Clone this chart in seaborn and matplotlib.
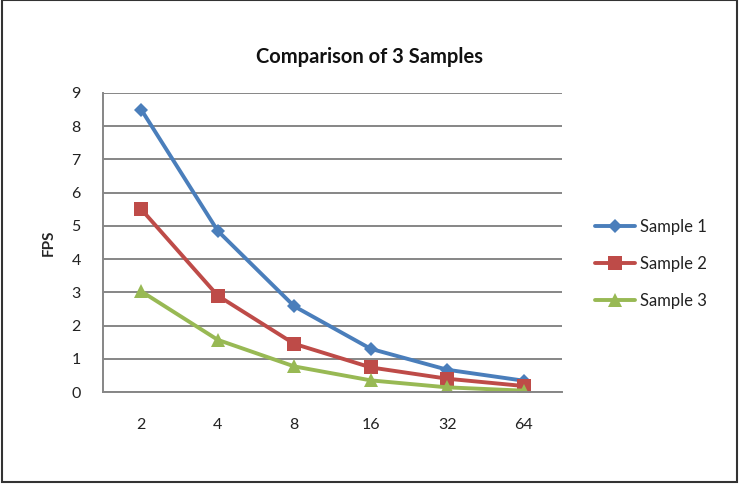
import matplotlib
matplotlib.use("Agg")
import matplotlib.pyplot as plt
import seaborn as sns
import pandas as pd
from matplotlib.patches import Rectangle

# Data
categories = ["2", "4", "8", "16", "32", "64"]
sample1 = [8.5, 4.85, 2.58, 1.3, 0.67, 0.34]
sample2 = [5.5, 2.9, 1.45, 0.74, 0.4, 0.18]
sample3 = [3.03, 1.57, 0.77, 0.35, 0.14, 0.04]
series_names = ["Sample 1", "Sample 2", "Sample 3"]
y_ticks = [0, 1, 2, 3, 4, 5, 6, 7, 8, 9]

rows = []
for name, vals in zip(series_names, [sample1, sample2, sample3]):
    for c, v in zip(categories, vals):
        rows.append({"x": c, "FPS": v, "series": name})
df = pd.DataFrame(rows)

sns.set_theme(style="white")
font = ["Lato", "DejaVu Sans"]
plt.rcParams["font.family"] = font

fig = plt.figure(figsize=(7.4, 4.86), dpi=100)
ax = fig.add_axes([103 / 740, 1 - 392 / 486, (562 - 103) / 740, (392 - 93) / 486])

palette = {"Sample 1": "#4A7EBB", "Sample 2": "#BE4B48", "Sample 3": "#98B954"}
markers = {"Sample 1": "D", "Sample 2": "s", "Sample 3": "^"}
sizes = {"Sample 1": 7, "Sample 2": 10, "Sample 3": 10}

for name in series_names:
    sub = df[df["series"] == name]
    sns.lineplot(data=sub, x="x", y="FPS", ax=ax, color=palette[name],
                 marker=markers[name], markersize=sizes[name], linewidth=2.8,
                 markeredgewidth=0, label=name, legend=False, sort=False)

ax.set_xlim(-0.5, len(categories) - 0.5)
ax.set_ylim(0, 9)
ax.set_yticks(y_ticks)
ax.set_yticklabels([str(t) for t in y_ticks])
ax.yaxis.grid(True, color="#868686", linewidth=1.4)
ax.xaxis.grid(False)
ax.set_axisbelow(True)
for s in ["top", "right"]:
    ax.spines[s].set_visible(False)
for s in ["left", "bottom"]:
    ax.spines[s].set_color("#868686")
    ax.spines[s].set_linewidth(1.4)
ax.tick_params(axis="y", length=4, width=1.2, color="#868686", pad=12, labelsize=11.5, labelcolor="#222222")
ax.tick_params(axis="x", length=0, pad=19, labelsize=11.5, labelcolor="#222222")
ax.set_xlabel("")
ax.set_ylabel("FPS", fontsize=11, fontweight="bold", labelpad=11)

fig.text(0.5, 1 - 57 / 486, "Comparison of 3 Samples", ha="center", va="center",
         fontsize=14.5, fontweight="bold", color="#111111")

handles, labels = ax.get_legend_handles_labels()
fig.legend(handles, labels, loc="center left", bbox_to_anchor=(580 / 740, 1 - 264 / 486),
           frameon=False, fontsize=12, labelspacing=1.25, handlelength=2.4,
           handletextpad=0.3, labelcolor="#222222")

fig.patches.append(Rectangle((1.5 / 740, 4 / 486), (737 - 1.5) / 740, (486 - 4.5) / 486,
                             transform=fig.transFigure, fill=False,
                             edgecolor="#333333", linewidth=1.5))

fig.savefig("out.png", dpi=100, facecolor="white")
